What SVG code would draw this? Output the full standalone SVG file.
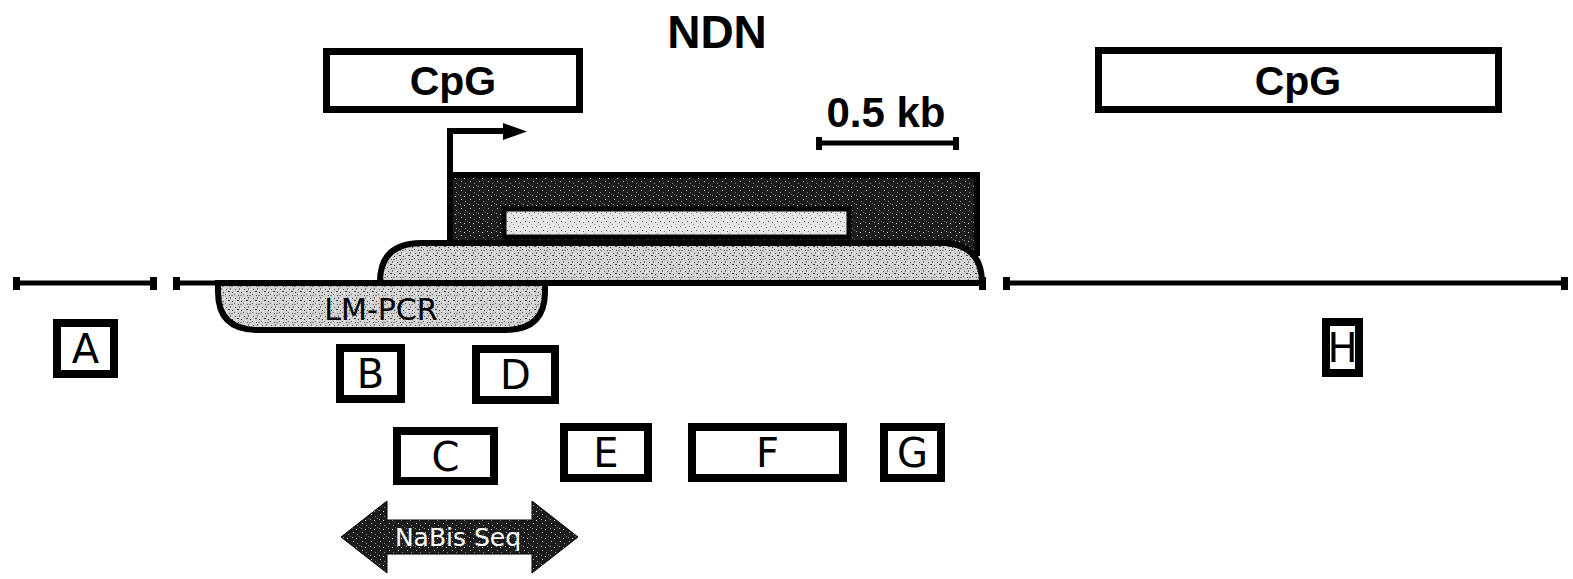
<svg xmlns="http://www.w3.org/2000/svg" width="1573" height="579" viewBox="0 0 1573 579">
<defs>
<pattern id="lt" width="9" height="9" patternUnits="userSpaceOnUse">
<rect width="9" height="9" fill="#d2d2d2"/>
<rect x="1" y="1" width="1" height="1" fill="#555"/><rect x="5" y="0" width="1" height="2" fill="#777"/>
<rect x="3" y="3" width="2" height="1" fill="#444"/><rect x="7" y="4" width="1" height="1" fill="#333"/>
<rect x="0" y="6" width="1" height="1" fill="#666"/><rect x="4" y="7" width="1" height="1" fill="#555"/>
<rect x="6" y="7" width="2" height="1" fill="#888"/><rect x="2" y="5" width="1" height="1" fill="#fff"/>
<rect x="8" y="1" width="1" height="1" fill="#fff"/><rect x="6" y="2" width="1" height="1" fill="#fff"/>
</pattern>
<pattern id="lt2" width="9" height="9" patternUnits="userSpaceOnUse">
<rect width="9" height="9" fill="#e6e6e6"/>
<rect x="1" y="2" width="1" height="1" fill="#666"/><rect x="5" y="1" width="1" height="1" fill="#888"/>
<rect x="3" y="5" width="1" height="1" fill="#555"/><rect x="7" y="6" width="1" height="1" fill="#777"/>
<rect x="0" y="8" width="1" height="1" fill="#999"/><rect x="6" y="4" width="1" height="1" fill="#fff"/>
</pattern>
<pattern id="dk" width="9" height="9" patternUnits="userSpaceOnUse">
<rect width="9" height="9" fill="#1c1c1c"/>
<rect x="2" y="1" width="1" height="1" fill="#bbb"/><rect x="6" y="3" width="1" height="1" fill="#888"/>
<rect x="1" y="6" width="1" height="1" fill="#999"/><rect x="5" y="7" width="1" height="1" fill="#ddd"/>
<rect x="8" y="5" width="1" height="1" fill="#666"/>
</pattern>
<style>
.bold{font-family:"Liberation Sans",Arial,sans-serif;font-weight:bold;fill:#000}
.lbl{font-family:"DejaVu Sans",Verdana,sans-serif;font-size:40px;fill:#000;text-anchor:middle}
.box{fill:#fff;stroke:#000;stroke-width:8}
.cpg{fill:#fff;stroke:#000;stroke-width:7}
.ln{stroke:#000;stroke-width:5;fill:none}
.cap{fill:#000}
</style>
</defs>
<rect width="1573" height="579" fill="#fff"/>

<g id="title"><text class="bold" x="717" y="48" font-size="46" text-anchor="middle">NDN</text></g>

<g id="cpg-left">
<rect class="cpg" x="326.5" y="51.5" width="253" height="58"/>
<text class="bold" x="453" y="95" font-size="41" text-anchor="middle">CpG</text>
</g>
<g id="cpg-right">
<rect class="cpg" x="1098.5" y="50.5" width="400" height="59"/>
<text class="bold" x="1298" y="95" font-size="41" text-anchor="middle">CpG</text>
</g>

<g id="scale-bar">
<text class="bold" x="886" y="127" font-size="42" text-anchor="middle">0.5 kb</text>
<line class="ln" x1="818" y1="143" x2="958" y2="143"/>
<rect class="cap" x="816" y="137" width="6" height="13"/>
<rect class="cap" x="953" y="137" width="6" height="13"/>
</g>

<g id="transcript-region">
<rect x="450" y="175" width="527" height="78" fill="url(#dk)" stroke="#000" stroke-width="6"/>
<rect x="504" y="209" width="345" height="28" fill="url(#lt2)" stroke="#000" stroke-width="5"/>
</g>

<g id="promoter">
<path d="M450,242 V131 H506" fill="none" stroke="#000" stroke-width="6"/>
<polygon points="503,123 527,131.5 503,140" fill="#000"/>
</g>

<g id="upper-region">
<path d="M380,283 V282 Q380,243 422,243 H946 Q982,246 982,283 Z" fill="url(#lt)" stroke="#000" stroke-width="6"/>
</g>

<g id="lm-pcr">
<path d="M218,283 V292 Q218,330 258,330 H505 Q545,330 545,292 V283 Z" fill="url(#lt)" stroke="#000" stroke-width="6"/>
<text x="381" y="320" font-family="'DejaVu Sans',Verdana,sans-serif" font-size="30" text-anchor="middle" fill="#000">LM-PCR</text>
</g>

<g id="connectors">
<line class="ln" x1="15" y1="283" x2="155" y2="283"/>
<rect class="cap" x="13" y="277" width="7" height="13"/>
<rect class="cap" x="150" y="277" width="7" height="13"/>
<line class="ln" x1="175" y1="283" x2="982" y2="283"/>
<rect class="cap" x="173" y="277" width="7" height="13"/>
<rect class="cap" x="979" y="277" width="7" height="13"/>
<line class="ln" x1="1005" y1="283" x2="1565" y2="283"/>
<rect class="cap" x="1003" y="277" width="7" height="13"/>
<rect class="cap" x="1561" y="277" width="7" height="13"/>
</g>

<g id="box-A"><rect class="box" x="57" y="323" width="57" height="51"/><text class="lbl" x="85.5" y="363">A</text></g>
<g id="box-B"><rect class="box" x="340" y="348" width="61" height="51"/><text class="lbl" x="370.5" y="388">B</text></g>
<g id="box-D"><rect class="box" x="476" y="349" width="79" height="51"/><text class="lbl" x="515.5" y="389">D</text></g>
<g id="box-C"><rect class="box" x="397" y="431" width="97" height="50"/><text class="lbl" x="445.5" y="470.5">C</text></g>
<g id="box-E"><rect class="box" x="564" y="427" width="84" height="51"/><text class="lbl" x="606" y="467">E</text></g>
<g id="box-F"><rect class="box" x="692" y="427" width="151" height="51"/><text class="lbl" x="767.5" y="467">F</text></g>
<g id="box-G"><rect class="box" x="884" y="427" width="57" height="51"/><text class="lbl" x="912.5" y="467">G</text></g>
<g id="box-H"><rect class="box" x="1326" y="322" width="33" height="51"/><text class="lbl" x="1342.5" y="362">H</text></g>

<g id="nabis-seq">
<polygon points="341,537 387,501 387,520 532,520 532,501 578,537 532,573 532,554 387,554 387,573" fill="url(#dk)" stroke="#000" stroke-width="1"/>
<text x="458" y="546" font-family="'DejaVu Sans',Verdana,sans-serif" font-size="25" text-anchor="middle" fill="#fff">NaBis Seq</text>
</g>
</svg>
